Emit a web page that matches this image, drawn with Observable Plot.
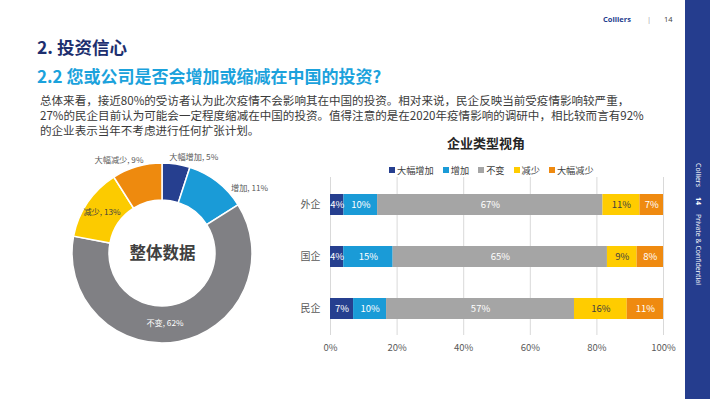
<!DOCTYPE html>
<html>
<head>
<meta charset="utf-8">
<script src="https://cdn.jsdelivr.net/npm/d3@7"></script>
<script src="https://cdn.jsdelivr.net/npm/@observablehq/plot@0.6"></script>
<style>
  html, body { margin: 0; padding: 0; background: #fff; }
  #page { position: relative; width: 710px; height: 399px; overflow: hidden; background: #fff;
    font-family: "Noto Sans CJK SC", "Noto Sans", sans-serif; }
  .abs { position: absolute; white-space: nowrap; }
  #sidebar { position: absolute; left: 685px; top: 0; width: 25px; height: 399px; background: #253d8e; }
  #sidetext { position: absolute; left: 691px; top: 163px; writing-mode: vertical-rl; color: #fff;
    font-family: "Open Sans", sans-serif; font-size: 7px; line-height: 14px; }
  #legend { position: absolute; left: 389px; top: 163px; display: flex; align-items: center; font-size: 9.2px; color: #404040; }
  #legend .item { display: flex; align-items: center; margin-right: 9px; }
  #legend .sw { width: 6px; height: 6px; margin-right: 2px; }
</style>
</head>
<body>
<div id="page">
  <div class="abs" style="left:603px;top:14px;font-family:'Open Sans',sans-serif;font-size:7.5px;font-weight:700;color:#253d8e;">Colliers</div>
  <div class="abs" style="left:647px;top:14px;font-family:'Open Sans',sans-serif;font-size:7.5px;color:#9a9a9a;">|</div>
  <div class="abs" style="left:664px;top:14px;font-family:'Open Sans',sans-serif;font-size:7.5px;color:#404040;">14</div>
  <div class="abs" style="left:37px;top:36px;font-size:17.5px;font-weight:700;color:#1d2f6f;line-height:22px;">2. 投资信心</div>
  <div class="abs" style="left:37px;top:65px;font-size:17px;font-weight:700;color:#1ba2dc;line-height:22px;">2.2 您或公司是否会增加或缩减在中国的投资?</div>
  <div class="abs" style="left:40px;top:93px;font-size:11.55px;color:#3a3a3a;line-height:15px;">总体来看，接近80%的受访者认为此次疫情不会影响其在中国的投资。相对来说，民企反映当前受疫情影响较严重，<br>27%的民企目前认为可能会一定程度缩减在中国的投资。值得注意的是在2020年疫情影响的调研中，相比较而言有92%<br>的企业表示当年不考虑进行任何扩张计划。</div>
  <div class="abs" style="left:447px;top:134px;font-size:13px;font-weight:700;color:#262626;line-height:18px;">企业类型视角</div>
  <div id="legend"></div>
  <div id="donut" class="abs" style="left:37px;top:138px;"></div>
  <div id="bars" class="abs" style="left:290px;top:175px;"></div>
  <div id="sidebar"></div>
  <div id="sidetext"><span>Colliers</span><span style="display:inline-block;height:10px"></span><span style="font-weight:700">14</span><span style="display:inline-block;height:9px"></span><span>Private &amp; Confidential</span></div>
</div>
<script>
// ---- data ----
const overallLabels = ["大幅增加", "增加", "不变", "减少", "大幅减少"];
const overallValues = [5, 11, 62, 13, 9];
const companyTypes = ["外企", "国企", "民企"];
const seriesNames = ["大幅增加", "增加", "不变", "减少", "大幅减少"];
const foreignValues = [4, 10, 67, 11, 7];
const stateValues = [4, 15, 65, 9, 8];
const privateValues = [7, 10, 57, 16, 11];
const xTicks = [0, 0.2, 0.4, 0.6, 0.8, 1];
const centerTitle = "整体数据";

// ---- styles / layout ----
const donutColors = ["#263f8f", "#1a9bd7", "#808084", "#fccb00", "#ee8a0e"];
const barColors = ["#263f8f", "#1a9bd7", "#a5a5a5", "#ffcc00", "#ef8a10"];
const donutInner = 53, donutOuter = 90;
// label placement (radius px, angle deg clockwise from top)
const donutLabelPlace = [[101, 18], [109, 53], [70, 178], [73, 304], [103, 335]];
const donutLabelFill = ["#595959", "#595959", "#ffffff", "#404040", "#595959"];

// legend
const leg = document.getElementById("legend");
seriesNames.forEach((s, i) => {
  const it = document.createElement("div"); it.className = "item";
  const sw = document.createElement("div"); sw.className = "sw"; sw.style.background = barColors[i];
  const t = document.createElement("span"); t.textContent = s;
  it.appendChild(sw); it.appendChild(t); leg.appendChild(it);
});

// ---- donut ----
const donutData = overallLabels.map((l, i) => ({label: l, value: overallValues[i]}));
const pie = d3.pie().sort(null).value(d => d.value)(donutData);
const color = Plot.scale({color: {domain: overallLabels, range: donutColors}});
const labelData = pie.map((p, i) => {
  const [r, a] = donutLabelPlace[i];
  const rad = a * Math.PI / 180;
  return {x: r * Math.sin(rad), y: r * Math.cos(rad), text: `${p.data.label}, ${p.data.value}%`, fill: donutLabelFill[i]};
});
const W = 250, H = 230;
const donut = Plot.plot({
  width: W, height: H, margin: 0,
  x: {domain: [-W / 2, W / 2], axis: null},
  y: {domain: [-H / 2, H / 2], axis: null},
  style: {fontFamily: "'Noto Sans CJK SC', sans-serif", background: "transparent"},
  marks: [
    (index, scales, values, dims) => {
      const cx = scales.x(0), cy = scales.y(0);
      const k = scales.x(1) - scales.x(0);
      const arc = d3.arc().innerRadius(donutInner * k).outerRadius(donutOuter * k);
      const g = d3.create("svg:g").attr("transform", `translate(${cx},${cy})`);
      g.selectAll("path").data(pie).join("path")
        .attr("d", arc)
        .attr("fill", d => color.apply(d.data.label))
        .attr("stroke", "#fff").attr("stroke-width", 1.5);
      return g.node();
    },
    Plot.text(labelData, {x: "x", y: "y", text: "text", fill: "fill", fontSize: 8.2}),
    Plot.text([centerTitle], {x: () => 0, y: () => 0, text: d => d, fontSize: 16.5, fontWeight: "bold", fill: "#404040"})
  ]
});
document.getElementById("donut").appendChild(donut);

// ---- stacked bars ----
const rows = [foreignValues, stateValues, privateValues];
const barData = companyTypes.flatMap((t, i) => seriesNames.map((s, j) => ({type: t, series: s, value: rows[i][j]})));
const stackOpts = {x: "value", y: "type", z: "series", order: seriesNames, offset: "normalize"};
const bars = Plot.plot({
  width: 395, height: 185, marginLeft: 40, marginRight: 22, marginTop: 2, marginBottom: 25,
  style: {fontFamily: "'Noto Sans CJK SC', sans-serif", background: "transparent"},
  x: {domain: [0, 1], label: null},
  y: {domain: companyTypes, label: null, paddingInner: 0.6, paddingOuter: 0.3},
  color: {domain: seriesNames, range: barColors},
  marks: [
    Plot.gridX(xTicks, {stroke: "#d9d9d9", strokeOpacity: 1}),
    Plot.barX(barData, Plot.stackX({...stackOpts, fill: "series"})),
    Plot.text(barData, Plot.stackX({...stackOpts, text: d => d.value + "%",
      fill: d => d.series === "减少" ? "#404040" : "#ffffff", fontSize: 9.5})),
    Plot.axisX({ticks: xTicks, tickFormat: d3.format(".0%"), tickSize: 0, tickPadding: 9, fontSize: 9.5, fill: "#595959", label: null}),
    Plot.axisY({tickSize: 0, tickPadding: 10, fontSize: 10, fill: "#595959", label: null})
  ]
});
document.getElementById("bars").appendChild(bars);
</script>
</body>
</html>
